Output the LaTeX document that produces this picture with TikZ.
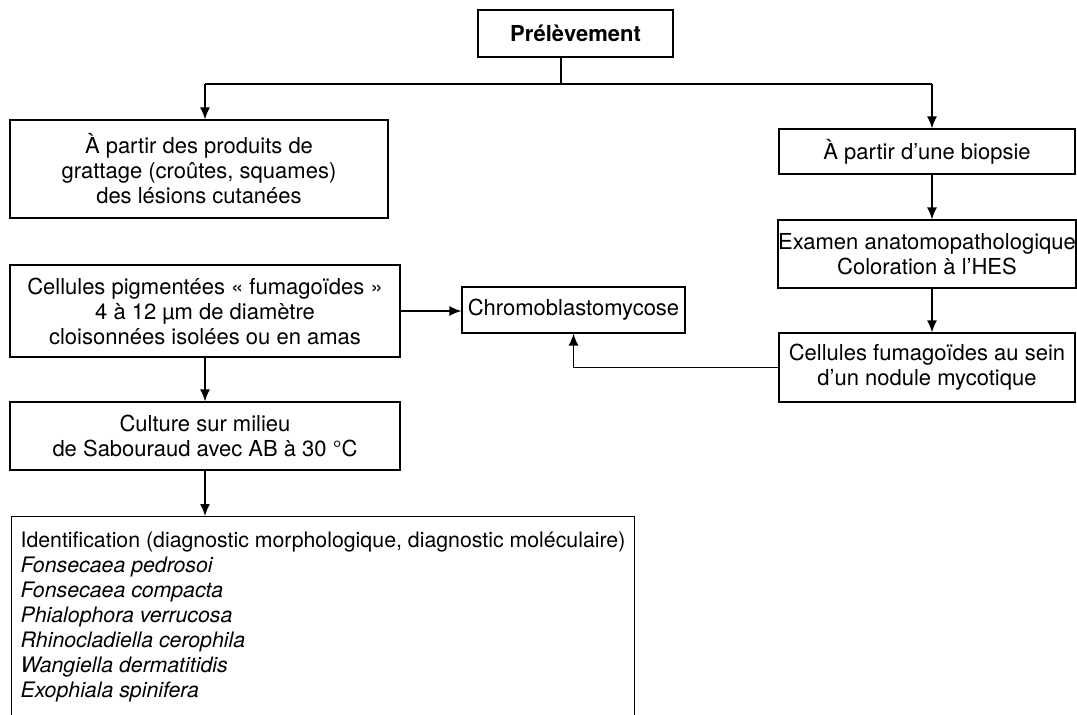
\documentclass[tikz,border=0pt]{standalone}
\usepackage{fontspec}
\setmainfont{TeX Gyre Heros}
\usetikzlibrary{arrows.meta}

\begin{document}
\begin{tikzpicture}[x=1pt, y=-1pt,
    box/.style={draw, line width=1.2pt, align=center, inner sep=0pt,
      font=\fontsize{22}{25}\selectfont},
    flow/.style={line width=1.4pt, -{Latex[length=12pt,width=10pt]}}]
  \clip (0,0) rectangle (1077,715);
  % sampling
  \node [box, minimum width=195, minimum height=47, font=\fontsize{22}{25}\selectfont\bfseries] (prel) at (575.5,33.5) {Prélèvement};
  \node [box, minimum width=378, minimum height=98] (grat) at (199,169)
    {À partir des produits de\\grattage (croûtes, squames)\\des lésions cutanées};
  \node [box, minimum width=296, minimum height=45] (biop) at (927,151.5) {À partir d’une biopsie};
  \node [box, minimum width=296, minimum height=68] (exam) at (927,254)
    {Examen anatomopathologique\\Coloration à l’HES};
  \node [box, minimum width=296, minimum height=69] (cfum) at (927,367.5)
    {Cellules fumagoïdes au sein\\d’un nodule mycotique};
  \node [box, minimum width=223, minimum height=46] (chromo) at (573.5,310) {Chromoblastomycose};
  \node [box, minimum width=390, minimum height=92] (cpig) at (205,311)
    {Cellules pigmentées « fumagoïdes »\\4 à 12 µm de diamètre\\cloisonnées isolées ou en amas};
  \node [box, minimum width=390, minimum height=68] (cult) at (205,436)
    {Culture sur milieu\\de Sabouraud avec AB à 30 °C};
  \node [box, anchor=north west, align=left, minimum width=621, inner xsep=9pt, inner ysep=15pt,
      font=\fontsize{21.3}{25}\selectfont] (ident) at (11,516)
    {Identification (diagnostic morphologique, diagnostic moléculaire)\\
     \textit{Fonsecaea pedrosoi}\\
     \textit{Fonsecaea compacta}\\
     \textit{Phialophora verrucosa}\\
     \textit{Rhinocladiella cerophila}\\
     \textit{Wangiella dermatitidis}\\
     \textit{Exophiala spinifera}\\[30pt]~};
  % connectors
  \coordinate (split) at (561,84);
  \coordinate (hl) at (205,84);
  \coordinate (hr) at (932,84);
  \draw [line width=1.4pt] (split |- prel.south) -- (split);
  \draw [line width=1.4pt] (hl) -- (hr);
  \draw [flow] (hl) -- (hl |- grat.north);
  \draw [flow] (hr) -- (hr |- biop.north);
  \draw [flow] (biop.south -| hr) -- (exam.north -| hr);
  \draw [flow] (exam.south -| hr) -- (cfum.north -| hr);
  \draw [flow] (cfum.west) -| (chromo.south);
  \draw [flow] (cpig.east) -- (cpig.east -| chromo.west);
  \draw [flow] (cpig.south) -- (cult.north);
  \draw [flow] (cult.south) -- (cult.south |- ident.north);
\end{tikzpicture}
\end{document}
